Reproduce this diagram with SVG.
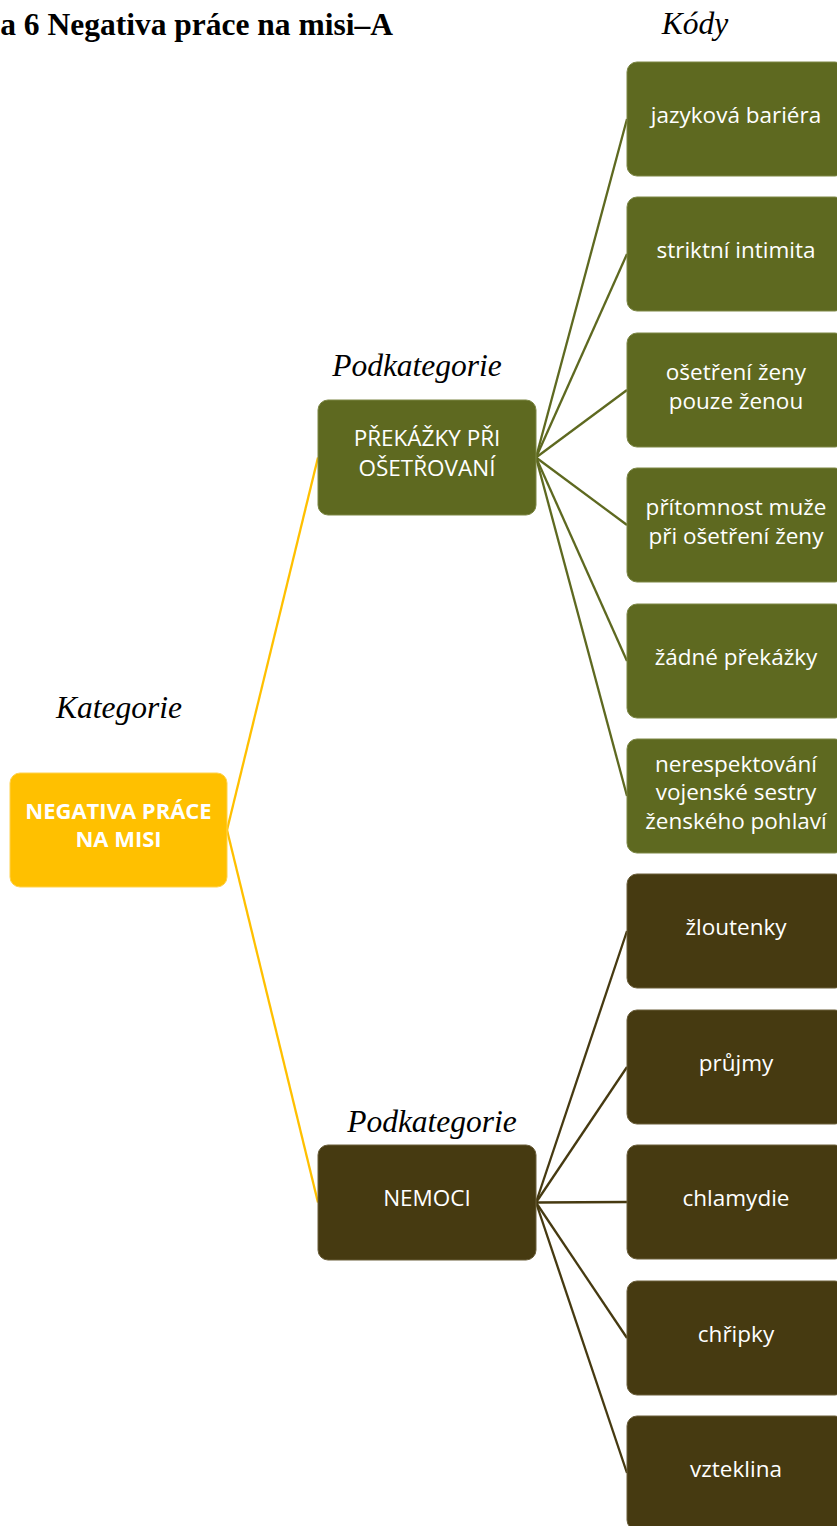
<svg xmlns="http://www.w3.org/2000/svg" width="837" height="1526" viewBox="0 0 837 1526">
  <style>
    .title { font-family: "Liberation Serif", "Times New Roman", serif; font-weight: bold; font-size: 31.5px; fill: #000; }
    .label { font-family: "Liberation Serif", "Times New Roman", serif; font-style: italic; font-size: 31.5px; fill: #000; text-anchor: middle; }
    .txt { font-family: "Open Sans", "Noto Sans", sans-serif; font-size: 22.5px; fill: #fff; text-anchor: middle; }
    .bold { font-weight: bold; font-size: 22px; }
    .cat { fill: #FFC000; stroke: #FFD24D; stroke-width: 1; }
    .green { fill: #5E6920; stroke: #7C8745; stroke-width: 1; }
    .brown { fill: #463A11; stroke: #6A5E3A; stroke-width: 1; }
    .ln-y { stroke: #FFC000; stroke-width: 2.3; fill: none; }
    .ln-g { stroke: #5E6920; stroke-width: 2.3; fill: none; }
    .ln-b { stroke: #463A11; stroke-width: 2.3; fill: none; }
  </style>

  <!-- headings -->
  <text class="title" x="393" y="35" text-anchor="end">a 6 Negativa práce na misi–A</text>
  <text class="label" x="695" y="34">Kódy</text>
  <text class="label" x="119" y="718">Kategorie</text>
  <text class="label" x="417" y="376">Podkategorie</text>
  <text class="label" x="432" y="1132">Podkategorie</text>

  <!-- connectors -->
  <g id="connectors">
    <line class="ln-y" x1="227" y1="830" x2="318" y2="457.5"/>
    <line class="ln-y" x1="227" y1="830" x2="318" y2="1202.5"/>
    <line class="ln-g" x1="536" y1="457.5" x2="627" y2="119"/>
    <line class="ln-g" x1="536" y1="457.5" x2="627" y2="254"/>
    <line class="ln-g" x1="536" y1="457.5" x2="627" y2="390"/>
    <line class="ln-g" x1="536" y1="457.5" x2="627" y2="525"/>
    <line class="ln-g" x1="536" y1="457.5" x2="627" y2="661"/>
    <line class="ln-g" x1="536" y1="457.5" x2="627" y2="796"/>
    <line class="ln-b" x1="536" y1="1202.5" x2="627" y2="931"/>
    <line class="ln-b" x1="536" y1="1202.5" x2="627" y2="1067"/>
    <line class="ln-b" x1="536" y1="1202.5" x2="627" y2="1202"/>
    <line class="ln-b" x1="536" y1="1202.5" x2="627" y2="1338"/>
    <line class="ln-b" x1="536" y1="1202.5" x2="627" y2="1473"/>
  </g>

  <!-- category -->
  <g id="kategorie">
    <rect class="cat" x="10" y="773" width="217" height="114" rx="10"/>
    <text class="txt bold" x="118.5" y="819">NEGATIVA PRÁCE</text>
    <text class="txt bold" x="118.5" y="847">NA MISI</text>
  </g>

  <!-- subcategories -->
  <g id="prekazky">
    <rect class="green" x="318" y="400" width="218" height="115" rx="10"/>
    <text class="txt" x="427" y="446">PŘEKÁŽKY PŘI</text>
    <text class="txt" x="427" y="476">OŠETŘOVANÍ</text>
  </g>
  <g id="nemoci">
    <rect class="brown" x="318" y="1145" width="218" height="115" rx="10"/>
    <text class="txt" x="427" y="1206">NEMOCI</text>
  </g>

  <!-- codes -->
  <g id="kod-jazykova-bariera">
    <rect class="green" x="627" y="62" width="218" height="114" rx="10"/>
    <text class="txt" x="736" y="123">jazyková bariéra</text>
  </g>
  <g id="kod-striktni-intimita">
    <rect class="green" x="627" y="197" width="218" height="114" rx="10"/>
    <text class="txt" x="736" y="258">striktní intimita</text>
  </g>
  <g id="kod-osetreni-zeny">
    <rect class="green" x="627" y="333" width="218" height="114" rx="10"/>
    <text class="txt" x="736" y="379.5">ošetření ženy</text>
    <text class="txt" x="736" y="408.5">pouze ženou</text>
  </g>
  <g id="kod-pritomnost-muze">
    <rect class="green" x="627" y="468" width="218" height="114" rx="10"/>
    <text class="txt" x="736" y="514.5">přítomnost muže</text>
    <text class="txt" x="736" y="543.5">při ošetření ženy</text>
  </g>
  <g id="kod-zadne-prekazky">
    <rect class="green" x="627" y="604" width="218" height="114" rx="10"/>
    <text class="txt" x="736" y="665">žádné překážky</text>
  </g>
  <g id="kod-nerespektovani">
    <rect class="green" x="627" y="739" width="218" height="114" rx="10"/>
    <text class="txt" x="736" y="771.5">nerespektování</text>
    <text class="txt" x="736" y="800">vojenské sestry</text>
    <text class="txt" x="736" y="828.5">ženského pohlaví</text>
  </g>
  <g id="kod-zloutenky">
    <rect class="brown" x="627" y="874" width="218" height="114" rx="10"/>
    <text class="txt" x="736" y="935">žloutenky</text>
  </g>
  <g id="kod-prujmy">
    <rect class="brown" x="627" y="1010" width="218" height="114" rx="10"/>
    <text class="txt" x="736" y="1071">průjmy</text>
  </g>
  <g id="kod-chlamydie">
    <rect class="brown" x="627" y="1145" width="218" height="114" rx="10"/>
    <text class="txt" x="736" y="1206">chlamydie</text>
  </g>
  <g id="kod-chripky">
    <rect class="brown" x="627" y="1281" width="218" height="114" rx="10"/>
    <text class="txt" x="736" y="1342">chřipky</text>
  </g>
  <g id="kod-vzteklina">
    <rect class="brown" x="627" y="1416" width="218" height="114" rx="10"/>
    <text class="txt" x="736" y="1477">vzteklina</text>
  </g>
</svg>
